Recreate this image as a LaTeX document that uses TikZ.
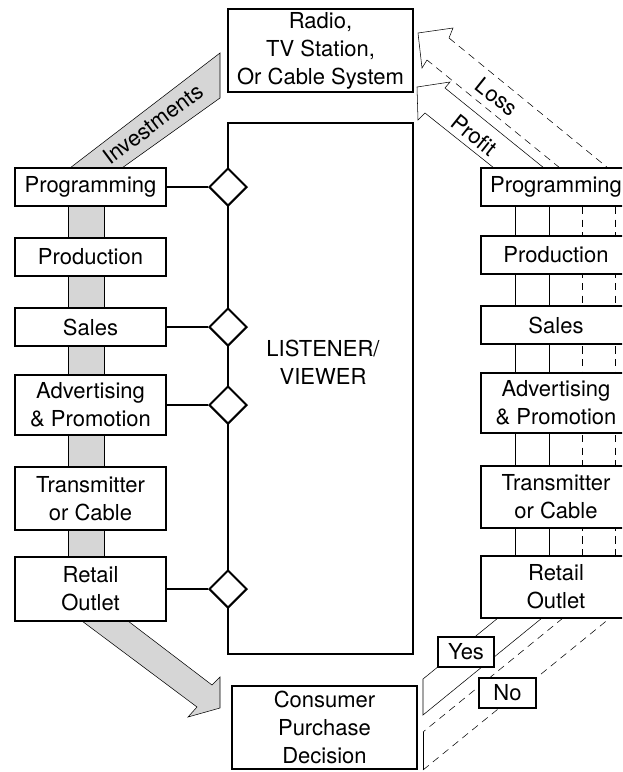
\documentclass[tikz,border=0pt]{standalone}
\usepackage{fontspec}
\setmainfont{TeX Gyre Heros}
\usetikzlibrary{shapes.geometric}
\definecolor{bandgray}{RGB}{214,214,214}
\newcommand{\dfont}{\fontsize{16.5}{21}\selectfont}
\pgfdeclarelayer{bg}
\pgfsetlayers{bg,main}
\begin{document}
\begin{tikzpicture}[x=0.75pt,y=-0.75pt,line width=1.5pt,
  box/.style={draw,fill=white,align=center,inner sep=0pt,font=\dfont},
  dia/.style={draw,fill=white,diamond,inner sep=0pt,minimum width=28.5pt,minimum height=28.5pt},
  band/.style={draw,fill=bandgray},
  dsh/.style={dash pattern=on 5.5pt off 4pt},
  lbl/.style={font=\dfont,inner sep=0pt}]
\clip (0,0) rectangle (622,772);

% top and bottom boxes
\node[box,minimum width=138.75pt,minimum height=62.25pt] (station) at (320.5,50.5) {Radio,\\TV Station,\\Or Cable System};
\node[box,minimum width=138.75pt,minimum height=62.25pt] (consumer) at (324.5,727.5) {Consumer\\Purchase\\Decision};

% listener / viewer
\node[draw,minimum width=138.75pt,minimum height=398.25pt,inner sep=0pt] (listener) at (320.5,388.5) {};
\node[lbl,align=center] (lvtext) at (323,362) {LISTENER/\\VIEWER};

% left column
\node[box,minimum width=113.25pt,minimum height=28.5pt] (lprog) at (90.5,187) {Programming};
\node[box,minimum width=113.25pt,minimum height=28.5pt] (lprod) at (90.5,257) {Production};
\node[box,minimum width=113.25pt,minimum height=28.5pt] (lsales) at (90.5,327) {Sales};
\node[box,minimum width=113.25pt,minimum height=45pt] (ladv) at (90.5,405) {Advertising\\\& Promotion};
\node[box,minimum width=113.25pt,minimum height=47.25pt] (ltrans) at (90.5,498.5) {Transmitter\\or Cable};
\node[box,minimum width=113.25pt,minimum height=48pt] (lretail) at (90.5,589) {Retail\\Outlet};

% right column
\node[box,minimum width=112.5pt,minimum height=28.5pt] (rprog) at (556,187) {Programming};
\node[box,minimum width=112.5pt,minimum height=28.5pt] (rprod) at (556,255) {Production};
\node[box,minimum width=112.5pt,minimum height=28.5pt] (rsales) at (556,325) {Sales};
\node[box,minimum width=112.5pt,minimum height=45pt] (radv) at (556,403) {Advertising\\\& Promotion};
\node[box,minimum width=112.5pt,minimum height=46.5pt] (rtrans) at (556,497) {Transmitter\\or Cable};
\node[box,minimum width=112.5pt,minimum height=46.5pt] (rretail) at (556,587) {Retail\\Outlet};

% diamonds
\node[dia] (d1) at (228,187) {};
\node[dia] (d2) at (228,327) {};
\node[dia] (d3) at (228,405) {};
\node[dia] (d4) at (228,589) {};
\draw (lprog.east) -- (d1.west);
\draw (lsales.east) -- (d2.west);
\draw (ladv.east) -- (d3.west);
\draw (lretail.east) -- (d4.west);

% yes / no
\node[box,minimum width=42pt,minimum height=22.5pt] (yes) at (466,652) {Yes};
\node[box,minimum width=42.75pt,minimum height=22.5pt] (no) at (507.5,693) {No};

% band labels
\node[lbl,rotate=36.7] (inv) at (153,124) {Investments};
\node[lbl,rotate=-38.7] (profit) at (474,135) {Profit};
\node[lbl,rotate=-38.7] (loss) at (497,97) {Loss};

\coordinate (v1) at (515,0);
\coordinate (v2) at (549,0);
\coordinate (v3) at (582,0);
\coordinate (v4) at (615,0);
\coordinate (g1) at (68,0);
\coordinate (g2) at (104,0);

\begin{pgfonlayer}{bg}
  % left gray channel
  \fill[bandgray] (g1 |- lprog.south) rectangle (g2 |- lretail.north);
  \draw (g1 |- lprog.south) -- (g1 |- lretail.north);
  \draw (g2 |- lprog.south) -- (g2 |- lretail.north);
  % investments band
  \draw[band] (70,168) -- (220,53) -- (220,98) -- (122,168) -- cycle;
  % arrow to consumer decision
  \draw[band] (82,621) -- (197,707) -- (188,717) -- (220,708) -- (220,677) -- (212,685) -- (128,621) -- cycle;
  % right verticals
  \draw (v1 |- rprog.south) -- (v1 |- rretail.north);
  \draw (v2 |- rprog.south) -- (v2 |- rretail.north);
  \draw[dsh] (v3 |- rprog.south) -- (v3 |- rretail.north);
  \draw[dsh] (v4 |- rprog.south) -- (v4 |- rretail.north);
  % profit arrow
  \draw (494,168) -- (425,113) -- (418,120) -- (417,87) -- (450,82) -- (445,88) -- (544,168);
  % loss arrow
  \draw[dsh] (560,168) -- (427,60);
  \draw (427,60) -- (422,68) -- (418,33) -- (453,28) -- (449,38);
  \draw[dsh] (449,38) -- (608,168);
  % yes band
  \draw (498,618) -- (423,679) -- (423,715) -- (542,618);
  % no band
  \draw[dsh] (563,618) -- (423,732);
  \draw (423,732) -- (423,770);
  \draw[dsh] (423,770) -- (610,618);
\end{pgfonlayer}
\end{tikzpicture}
\end{document}
